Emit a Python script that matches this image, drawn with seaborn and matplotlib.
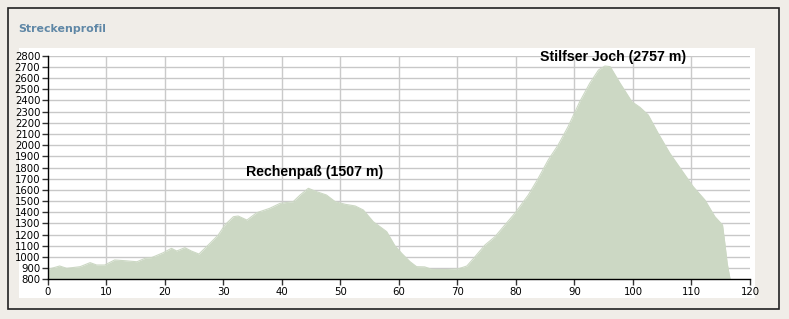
import matplotlib
matplotlib.use("Agg")
import matplotlib.pyplot as plt
import seaborn as sns
import pandas as pd
from matplotlib.patches import Rectangle

# ---- data ----
km = [0, 2.0, 3.2, 5.5, 7.2, 8.3, 9.7, 11.4, 13.2, 15.2, 16.6, 17.7, 19.7, 21.1,
      22.0, 23.4, 24.5, 25.8, 27.4, 29.1, 30.3, 31.7, 32.5, 34.0, 35.7, 37.9,
      39.7, 41.9, 43.1, 44.5, 45.9, 47.6, 49.1, 50.8, 52.5, 53.9, 55.6, 57.9,
      59.3, 60.5, 61.9, 63.0, 64.4, 65.6, 67.9, 70.1, 71.6, 73.0, 74.7, 76.4,
      78.1, 79.8, 82.1, 83.8, 85.5, 87.2, 88.9, 90.9, 92.6, 94.1, 95.2, 96.1,
      97.8, 99.8, 101.2, 102.6, 104.3, 106.3, 108.3, 110.3, 112.3, 114.0,
      115.3, 115.7, 116.1, 116.6]
elevation = [889, 919, 898, 913, 949, 928, 928, 973, 966, 957, 988, 994, 1038,
             1077, 1053, 1083, 1053, 1026, 1107, 1196, 1290, 1360, 1366, 1330,
             1396, 1435, 1480, 1494, 1554, 1614, 1584, 1554, 1494, 1471, 1456,
             1420, 1315, 1226, 1100, 1030, 957, 913, 911, 889, 887, 893, 919,
             1002, 1107, 1181, 1286, 1390, 1554, 1703, 1867, 2001, 2165, 2389,
             2553, 2672, 2708, 2702, 2553, 2389, 2338, 2270, 2106, 1927, 1777,
             1628, 1509, 1360, 1286, 1122, 943, 800]
x_ticks = list(range(0, 121, 10))
y_ticks = list(range(800, 2801, 100))
title = "Streckenprofil"
peak_labels = ["Rechenpaß (1507 m)", "Stilfser Joch (2757 m)"]
peak_label_pos = [(45.6, 1760), (96.6, 2790)]

df = pd.DataFrame({"km": km, "elevation": elevation})

sns.set_theme(style="white")
plt.rcParams['font.family'] = ['DejaVu Sans']

W, H = 789, 319
fig = plt.figure(figsize=(W / 100, H / 100), dpi=100)
fig.patch.set_facecolor("#F0EDE8")

# outer frame
fig.add_artist(Rectangle((8 / W, 1 - 309 / H), (779 - 8) / W, (309 - 8) / H,
                         transform=fig.transFigure, facecolor="#F0EDE8",
                         edgecolor="#222222", linewidth=1.2, zorder=-2))
# white panel
fig.add_artist(Rectangle((19 / W, 1 - 298 / H), (755 - 19) / W, (298 - 48) / H,
                         transform=fig.transFigure, facecolor="white",
                         edgecolor="none", zorder=-1))

fig.text(18 / W, 1 - 29 / H, title, color="#5F87A6", fontsize=7.9,
         fontweight="bold", va="center", ha="left")

ax = fig.add_axes([48 / W, 39.7 / H, (750 - 48) / W, (279.3 - 55.7) / H])
ax.set_zorder(2)
ax.patch.set_alpha(0)

fill_color = "#CCD8C4"
ax.fill_between(df["km"], df["elevation"], 800, color=fill_color, linewidth=0, zorder=2)
sns.lineplot(data=df, x="km", y="elevation", ax=ax, color=fill_color,
             linewidth=0.8, zorder=2)

ax.set_xlim(0, 120)
ax.set_ylim(800, 2800)
ax.set_xticks(x_ticks)
ax.set_yticks(y_ticks)
ax.set_xticklabels([str(t) for t in x_ticks])
ax.set_yticklabels([str(t) for t in y_ticks])
ax.set_xlabel("")
ax.set_ylabel("")

for yv in y_ticks[1:]:
    ax.axhline(yv, color="#C8C8C8", linewidth=1.0, zorder=1)
for xv in x_ticks[1:-1]:
    ax.axvline(xv, color="#CACACA", linewidth=1.0, zorder=1)

for s in ["top", "right"]:
    ax.spines[s].set_visible(False)
for s in ["left", "bottom"]:
    ax.spines[s].set_color("black")
    ax.spines[s].set_linewidth(1.0)
    ax.spines[s].set_zorder(3)

ax.tick_params(axis="both", which="major", direction="out", length=4, width=1,
               color="#333333", labelsize=7.3, labelcolor="black", pad=1.5,
               left=True, bottom=True)

for text, (xp, yp) in zip(peak_labels, peak_label_pos):
    ax.text(xp, yp, text, ha="center", va="center", fontsize=10.2,
            fontweight="bold", family=["Liberation Sans", "DejaVu Sans"],
            color="black", zorder=4)

fig.savefig("out.png", dpi=100, facecolor=fig.get_facecolor())
